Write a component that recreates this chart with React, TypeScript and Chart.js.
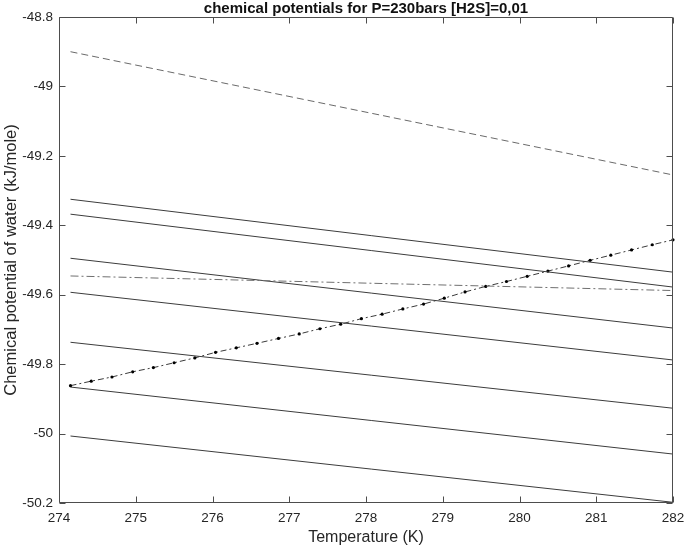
import { useEffect, useRef } from "react";
import { Chart, registerables } from "chart.js";

Chart.register(...registerables);

const chartTitle = "chemical potentials for P=230bars [H2S]=0,01";
const xAxisTitle = "Temperature (K)";
const yAxisTitle = "Chemical potential of water (kJ/mole)";

const xTickValues = [274, 275, 276, 277, 278, 279, 280, 281, 282];
const yTickValues = [-50.2, -50, -49.8, -49.6, -49.4, -49.2, -49, -48.8];

// two-point straight lines (start and end temperature)
const tempEnds = [274.15, 282];
const dashedLine = [-48.9, -49.255];
const solidLine1 = [-49.325, -49.535];
const solidLine2 = [-49.368, -49.578];
const dashDotLine = [-49.546, -49.588];
const solidLine3 = [-49.495, -49.696];
const solidLine4 = [-49.593, -49.788];
const solidLine5 = [-49.737, -49.927];
const solidLine6 = [-49.866, -50.059];
const solidLine7 = [-50.007, -50.198];

// marked dash-dot curve
const markerTemps = [
  274.15, 274.42, 274.69, 274.96, 275.23, 275.5, 275.77, 276.04, 276.31, 276.58,
  276.86, 277.13, 277.4, 277.67, 277.94, 278.21, 278.48, 278.75, 279.02, 279.29,
  279.56, 279.83, 280.1, 280.37, 280.64, 280.92, 281.19, 281.46, 281.73, 282.0,
];
const markerValues = [
  -49.862, -49.849, -49.837, -49.822, -49.81, -49.796, -49.782, -49.766, -49.753, -49.74,
  -49.726, -49.713, -49.698, -49.685, -49.669, -49.656, -49.641, -49.627, -49.61, -49.592,
  -49.576, -49.562, -49.547, -49.532, -49.517, -49.501, -49.486, -49.471, -49.456, -49.442,
];

const pts = (xs: number[], ys: number[]) => xs.map((x, i) => ({ x, y: ys[i] }));

const FONT = "'Liberation Sans', Arial, Helvetica, sans-serif";

const matlabPlugin = {
  id: "matlabBox",
  afterDraw(chart: any) {
    const { ctx, chartArea: a, scales } = chart;
    const L = Math.round(a.left) + 0.5;
    const R = Math.round(a.right) - 0.5;
    const T = Math.round(a.top) + 0.5;
    const B = Math.round(a.bottom) - 0.5;
    ctx.save();
    ctx.strokeStyle = "#4d4d4d";
    ctx.lineWidth = 1;
    ctx.beginPath();
    ctx.rect(L, T, R - L, B - T);
    const tl = 6;
    xTickValues.forEach((v) => {
      const px = Math.round(scales.x.getPixelForValue(v)) + 0.5;
      ctx.moveTo(px, B);
      ctx.lineTo(px, B - tl);
      ctx.moveTo(px, T);
      ctx.lineTo(px, T + tl);
    });
    yTickValues.forEach((v) => {
      const py = Math.round(scales.y.getPixelForValue(v)) + 0.5;
      ctx.moveTo(L, py);
      ctx.lineTo(L + tl, py);
      ctx.moveTo(R, py);
      ctx.lineTo(R - tl, py);
    });
    ctx.stroke();
    ctx.fillStyle = "#111";
    ctx.font = `bold 15px ${FONT}`;
    ctx.textAlign = "center";
    ctx.textBaseline = "middle";
    ctx.fillText(chartTitle, (a.left + a.right) / 2, 9);
    ctx.restore();
  },
};

export default function App() {
  const ref = useRef<HTMLCanvasElement | null>(null);
  useEffect(() => {
    if (!ref.current) return;
    const solid = (data: number[]) => ({
      data: pts(tempEnds, data),
      borderColor: "#3c3c3c",
      borderWidth: 1,
      pointRadius: 0,
    });
    const chart = new Chart(ref.current, {
      type: "line",
      data: {
        datasets: [
          {
            data: pts(tempEnds, dashedLine),
            borderColor: "#6a6a6a",
            borderWidth: 1,
            borderDash: [7, 4],
            pointRadius: 0,
          },
          solid(solidLine1),
          solid(solidLine2),
          {
            data: pts(tempEnds, dashDotLine),
            borderColor: "#6f6f6f",
            borderWidth: 1,
            borderDash: [8, 3, 2, 3],
            pointRadius: 0,
          },
          solid(solidLine3),
          solid(solidLine4),
          solid(solidLine5),
          {
            data: pts(markerTemps, markerValues),
            borderColor: "#3a3a3a",
            borderWidth: 1,
            borderDash: [6, 3, 2, 3],
            pointRadius: 1.6,
            pointBackgroundColor: "#000",
            pointBorderColor: "#000",
            pointBorderWidth: 0,
          },
          solid(solidLine6),
          solid(solidLine7),
        ],
      },
      options: {
        animation: false,
        responsive: false,
        devicePixelRatio: 1,
        clip: false,
        layout: { padding: { top: 17, right: 12, left: 0, bottom: 0 } },
        plugins: {
          legend: { display: false },
          tooltip: { enabled: false },
          title: { display: false },
        },
        scales: {
          x: {
            type: "linear",
            min: 274,
            max: 282,
            grid: { display: false, drawTicks: false },
            border: { display: false },
            afterFit: (s: any) => {
              s.height = 44;
              s.paddingLeft = 0;
              s.paddingRight = 0;
            },
            afterBuildTicks: (s: any) => {
              s.ticks = xTickValues.map((value) => ({ value }));
            },
            ticks: {
              color: "#262626",
              font: { family: FONT, size: 13.5 },
              padding: 7,
              maxRotation: 0,
            },
            title: {
              display: true,
              text: xAxisTitle,
              color: "#262626",
              font: { family: FONT, size: 16 },
              padding: { top: 0, bottom: 0 },
            },
          },
          y: {
            type: "linear",
            min: -50.2,
            max: -48.8,
            grid: { display: false, drawTicks: false },
            border: { display: false },
            afterFit: (s: any) => {
              s.width = 59;
              s.paddingTop = 0;
              s.paddingBottom = 0;
            },
            afterBuildTicks: (s: any) => {
              s.ticks = yTickValues.map((value) => ({ value }));
            },
            ticks: {
              color: "#262626",
              font: { family: FONT, size: 13.5 },
              padding: 6,
              callback: (v: any) => String(Number(Number(v).toFixed(1))),
            },
            title: {
              display: true,
              text: yAxisTitle,
              color: "#262626",
              font: { family: FONT, size: 16.5 },
              padding: { top: 2, bottom: 0 },
            },
          },
        },
      },
      plugins: [matlabPlugin],
    });
    return () => chart.destroy();
  }, []);
  return (
    <div style={{ position: "absolute", left: 0, top: 0, width: 685, height: 547 }}>
      <canvas ref={ref} width={685} height={547} />
    </div>
  );
}
